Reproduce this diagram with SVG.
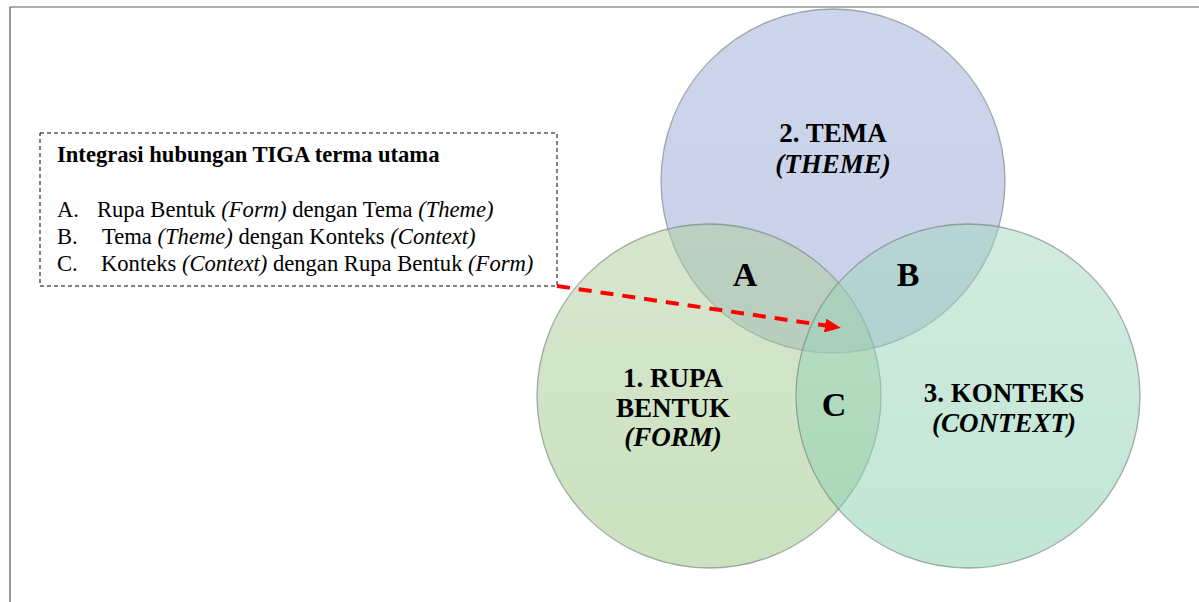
<svg xmlns="http://www.w3.org/2000/svg" width="1199" height="602" viewBox="0 0 1199 602">
<style>
.frame{stroke:#5a5a5a;stroke-width:1.2;fill:none}
.circ{stroke:#6f7a74;stroke-opacity:0.6;stroke-width:1.3}
.lbl{font-family:"Liberation Serif","Times New Roman",serif;font-weight:bold;font-size:27px;fill:#000;text-anchor:middle}
.it{font-style:italic}
.big{font-family:"Liberation Serif","Times New Roman",serif;font-weight:bold;font-size:34px;fill:#000;text-anchor:middle}
.note{font-family:"Liberation Serif","Times New Roman",serif;font-size:22.6px;fill:#000}
.conn{stroke:#ff0000;stroke-width:4;stroke-dasharray:13 9;fill:none}
</style>
<defs>
<linearGradient id="gBlue" x1="0" y1="0" x2="0" y2="1">
<stop offset="0" stop-color="#9aabd8"/><stop offset="1" stop-color="#93a4d3"/>
</linearGradient>
<linearGradient id="gGreen" x1="0" y1="0" x2="0" y2="1">
<stop offset="0" stop-color="#afcd9d"/><stop offset="1" stop-color="#97c57f"/>
</linearGradient>
<linearGradient id="gTeal" x1="0" y1="0" x2="0" y2="1">
<stop offset="0" stop-color="#a3d6bf"/><stop offset="1" stop-color="#82cdad"/>
</linearGradient>
<marker id="arrow" markerUnits="userSpaceOnUse" markerWidth="16" markerHeight="14" refX="1" refY="7" orient="auto">
<path d="M0,0 L16,7 L0,14 Z" fill="#ff0000"/>
</marker>
</defs>
<rect width="1199" height="602" fill="#ffffff"/>
<path class="frame" d="M10,602 L10,7 L1199,7"/>
<g id="node-tema">
<circle class="circ" cx="833" cy="181" r="172" fill="url(#gBlue)" fill-opacity="0.5"/>
<text class="lbl" x="833" y="142">2. TEMA</text>
<text class="lbl it" x="833" y="173">(THEME)</text>
</g>
<g id="node-rupa">
<circle class="circ" cx="709" cy="396" r="172" fill="url(#gGreen)" fill-opacity="0.5"/>
</g>
<g id="node-konteks">
<circle class="circ" cx="968" cy="396" r="172" fill="url(#gTeal)" fill-opacity="0.5"/>
</g>
<g id="labels">
<text class="lbl" x="673" y="387">1. RUPA</text>
<text class="lbl" x="673" y="417">BENTUK</text>
<text class="lbl it" x="673" y="446">(FORM)</text>
<text class="lbl" x="1004" y="402">3. KONTEKS</text>
<text class="lbl it" x="1004" y="432">(CONTEXT)</text>
<text class="big" x="745" y="286">A</text>
<text class="big" x="908" y="286">B</text>
<text class="big" x="834" y="416">C</text>
</g>
<g id="node-note">
<rect x="40" y="133" width="517" height="153" fill="#ffffff" stroke="#000" stroke-width="1" stroke-dasharray="4 3"/>
<text class="note" x="57" y="162" font-weight="bold">Integrasi hubungan TIGA terma utama</text>
<text class="note" x="57" y="217">A.</text>
<text class="note" x="97" y="217">Rupa Bentuk <tspan class="it">(Form)</tspan> dengan Tema <tspan class="it">(Theme)</tspan></text>
<text class="note" x="57" y="244">B.</text>
<text class="note" x="102" y="244">Tema <tspan class="it">(Theme)</tspan> dengan Konteks <tspan class="it">(Context)</tspan></text>
<text class="note" x="57" y="271">C.</text>
<text class="note" x="101" y="271">Konteks <tspan class="it">(Context)</tspan> dengan Rupa Bentuk <tspan class="it">(Form)</tspan></text>
</g>
<g id="connectors">
<path class="conn" d="M557,286 L826,325.6" marker-end="url(#arrow)"/>
</g>
</svg>
